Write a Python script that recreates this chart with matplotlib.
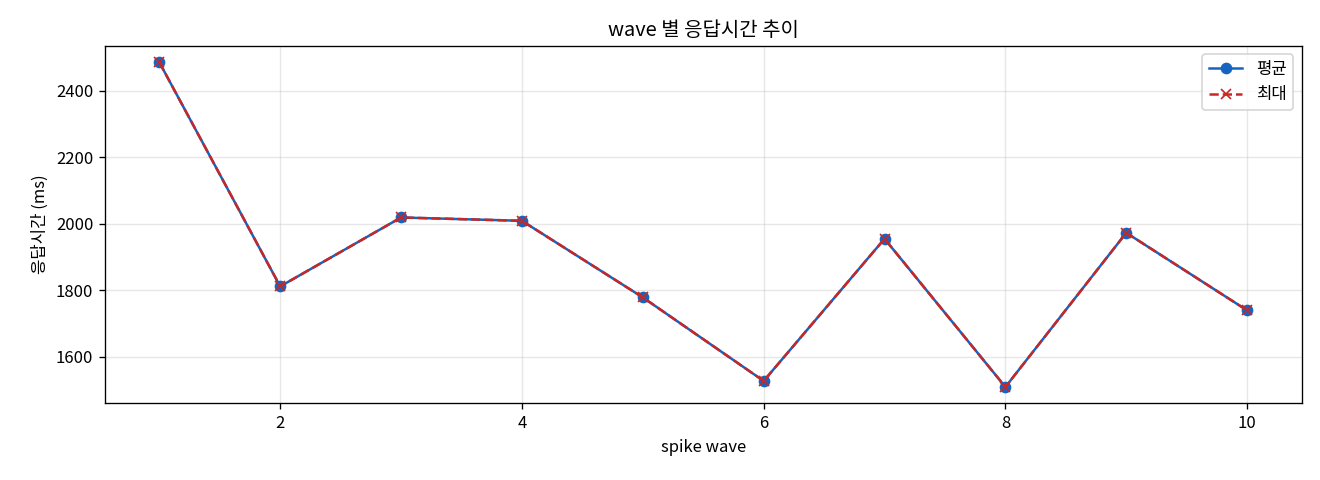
import matplotlib
matplotlib.use("Agg")
import matplotlib.pyplot as plt

plt.rcParams['font.family'] = ['Noto Sans CJK KR', 'DejaVu Sans']

waves = [1, 2, 3, 4, 5, 6, 7, 8, 9, 10]
avg_ms = [2485, 1812, 2019, 2009, 1779, 1528, 1955, 1510, 1973, 1740]
max_ms = [2485, 1812, 2019, 2009, 1779, 1528, 1955, 1510, 1973, 1740]

fig, ax = plt.subplots(figsize=(11, 4), dpi=120)
ax.plot(waves, avg_ms, marker='o', color='#1565c0', label='평균')
ax.plot(waves, max_ms, marker='x', linestyle='--', color='#c62828', label='최대')
ax.set_title('wave 별 응답시간 추이')
ax.set_xlabel('spike wave')
ax.set_ylabel('응답시간 (ms)')
ax.grid(True, alpha=0.3)
ax.legend(loc='upper right')
fig.subplots_adjust(left=0.0795, right=0.986, top=0.904, bottom=0.160)
plt.savefig('out.png')
